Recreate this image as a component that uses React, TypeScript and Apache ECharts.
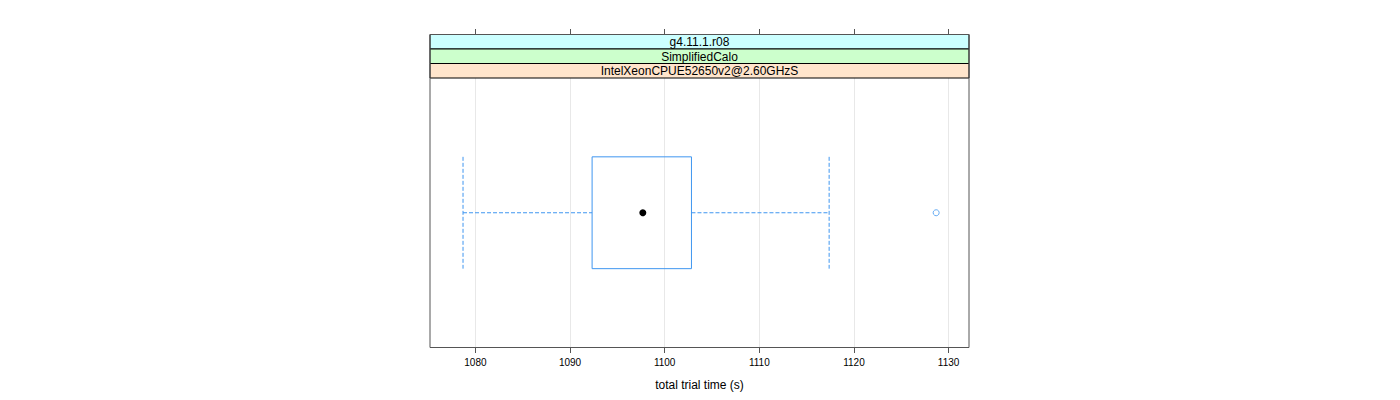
import React, { useEffect, useRef } from "react";
import * as echarts from "echarts";

const categories = ["IntelXeonCPUE52650v2@2.60GHzS"];
const stripLabels = ["g4.11.1.r08", "SimplifiedCalo", "IntelXeonCPUE52650v2@2.60GHzS"];
const stripColors = ["#ccffff", "#ccffcc", "#ffe5cc"];
// [low whisker, Q1, median, Q3, high whisker]
const boxStats = [1078.69, 1092.33, 1097.69, 1102.83, 1117.38];
const outliers = [1128.69];
const tickValues = [1080, 1090, 1100, 1110, 1120, 1130];
const xMin = 1075.2;
const xMax = 1132.16;
const xInterval = 10;
const xTitle = "total trial time (s)";

const PANEL_LEFT = 430;
const PANEL_WIDTH = 539;
const STRIP_TOP = 34.5;
const STRIP_H = 14.5;
const PLOT_TOP = STRIP_TOP + STRIP_H * 3;
const PLOT_BOTTOM = 347.5;
const BLUE = "#3f96f0";
const FONT = "Liberation Sans, Arial, Helvetica, sans-serif";

export default function App() {
  const ref = useRef<HTMLDivElement>(null);
  useEffect(() => {
    if (!ref.current) return;
    const chart = echarts.init(ref.current, undefined, { renderer: "svg" });

    const strips: any[] = [];
    stripLabels.forEach((label, i) => {
      strips.push({
        type: "rect",
        shape: { x: PANEL_LEFT, y: STRIP_TOP + i * STRIP_H, width: PANEL_WIDTH, height: STRIP_H },
        style: { fill: stripColors[i], stroke: "#000", lineWidth: 1 },
        z: 10,
      });
      strips.push({
        type: "text",
        x: PANEL_LEFT + PANEL_WIDTH / 2,
        y: STRIP_TOP + i * STRIP_H + STRIP_H / 2 + 0.5,
        style: {
          text: label,
          fontSize: 12,
          fontFamily: FONT,
          fill: "#000",
          textAlign: "center",
          textVerticalAlign: "middle",
        },
        z: 12,
      });
    });

    const outerBorder = {
      type: "rect",
      shape: { x: PANEL_LEFT, y: STRIP_TOP, width: PANEL_WIDTH, height: PLOT_BOTTOM - STRIP_TOP },
      style: { fill: "none", stroke: "#555", lineWidth: 1 },
      z: 11,
    };

    const boxHeightRatio = 0.415;

    chart.setOption({
      animation: false,
      backgroundColor: "#fff",
      grid: {
        left: PANEL_LEFT,
        top: PLOT_TOP,
        width: PANEL_WIDTH,
        height: PLOT_BOTTOM - PLOT_TOP,
        show: false,
      },
      xAxis: [
        {
          type: "value",
          min: xMin,
          max: xMax,
          interval: xInterval,
          position: "bottom",
          axisLine: { show: false },
          axisTick: { show: true, length: 5.5, lineStyle: { color: "#555" }, customValues: tickValues },
          axisLabel: {
            show: true,
            fontSize: 10,
            fontFamily: FONT,
            color: "#000",
            margin: 10,
            customValues: tickValues,
            formatter: (v: number) => String(Math.round(v)),
          },
          splitLine: { show: true, lineStyle: { color: "#e8e8e8", width: 1 } },
          name: xTitle,
          nameLocation: "middle",
          nameGap: 31,
          nameTextStyle: { fontSize: 12, fontFamily: FONT, color: "#000" },
        },
        {
          type: "value",
          min: xMin,
          max: xMax,
          interval: xInterval,
          position: "top",
          offset: PLOT_TOP - STRIP_TOP,
          axisLine: { show: false },
          axisTick: { show: true, length: 5.5, lineStyle: { color: "#555" }, customValues: tickValues },
          axisLabel: { show: false },
          splitLine: { show: false },
        },
      ],
      yAxis: {
        type: "category",
        data: categories,
        axisLine: { show: false },
        axisTick: { show: false },
        axisLabel: { show: false },
        splitLine: { show: false },
      },
      graphic: [...strips, outerBorder],
      series: [
        {
          type: "custom",
          xAxisIndex: 0,
          data: [[0, ...boxStats]],
          encode: { y: 0, x: [1, 2, 3, 4, 5] },
          renderItem: (params: any, api: any) => {
            const cat = api.value(0);
            const low = api.coord([api.value(1), cat]);
            const q1 = api.coord([api.value(2), cat]);
            const med = api.coord([api.value(3), cat]);
            const q3 = api.coord([api.value(4), cat]);
            const high = api.coord([api.value(5), cat]);
            const band = api.size([0, 1])[1];
            const h = band * boxHeightRatio;
            const cy = q1[1];
            const dashStyle = { stroke: BLUE, lineWidth: 1, lineDash: [4, 2], fill: "none" };
            return {
              type: "group",
              children: [
                { type: "line", shape: { x1: low[0], y1: cy, x2: q1[0], y2: cy }, style: dashStyle },
                { type: "line", shape: { x1: q3[0], y1: cy, x2: high[0], y2: cy }, style: dashStyle },
                { type: "line", shape: { x1: low[0], y1: cy - h / 2, x2: low[0], y2: cy + h / 2 }, style: dashStyle },
                { type: "line", shape: { x1: high[0], y1: cy - h / 2, x2: high[0], y2: cy + h / 2 }, style: dashStyle },
                {
                  type: "rect",
                  shape: { x: q1[0], y: cy - h / 2, width: q3[0] - q1[0], height: h },
                  style: { stroke: BLUE, lineWidth: 1, fill: "none" },
                },
                {
                  type: "circle",
                  shape: { cx: med[0], cy: med[1], r: 3.5 },
                  style: { fill: "#000", stroke: "none" },
                },
              ],
            };
          },
          z: 5,
        },
        {
          type: "scatter",
          xAxisIndex: 0,
          data: outliers.map((v) => [v, categories[0]]),
          symbol: "circle",
          symbolSize: 6,
          itemStyle: { color: "#fff", borderColor: BLUE, borderWidth: 1 },
          z: 5,
        },
      ],
    });
    return () => chart.dispose();
  }, []);
  return (
    <div
      ref={ref}
      style={{ position: "absolute", left: 0, top: 0, width: 1400, height: 400 }}
    />
  );
}
